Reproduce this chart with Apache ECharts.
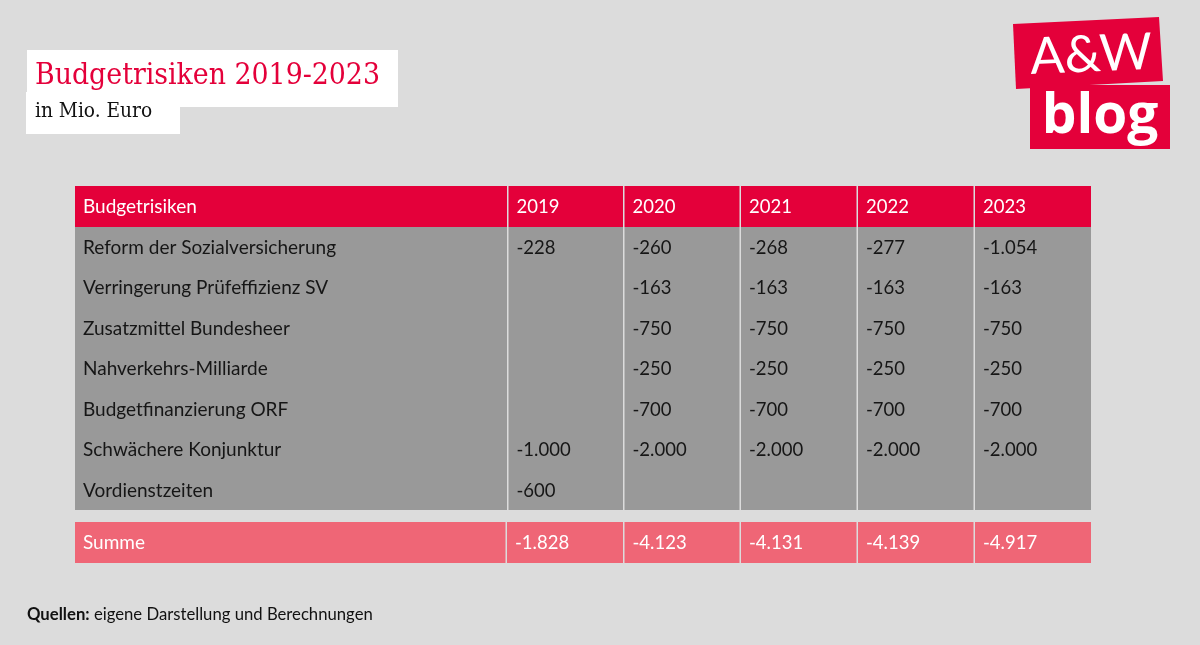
<!DOCTYPE html>
<html>
<head>
<meta charset="utf-8">
<style>
  html, body { margin: 0; padding: 0; background: #dcdcdc; }
  #chart { width: 1200px; height: 645px; }
</style>
<script src="https://cdn.jsdelivr.net/npm/echarts@6/dist/echarts.min.js"></script>
</head>
<body>
<div id="chart"></div>
<script>
const years = [2019, 2020, 2021, 2022, 2023];
const rowLabels = [
  "Reform der Sozialversicherung",
  "Verringerung Prüfeffizienz SV",
  "Zusatzmittel Bundesheer",
  "Nahverkehrs-Milliarde",
  "Budgetfinanzierung ORF",
  "Schwächere Konjunktur",
  "Vordienstzeiten",
];
const reformSv = [-228, -260, -268, -277, -1054];
const pruefeffizienz = [null, -163, -163, -163, -163];
const bundesheer = [null, -750, -750, -750, -750];
const nahverkehr = [null, -250, -250, -250, -250];
const orf = [null, -700, -700, -700, -700];
const konjunktur = [-1000, -2000, -2000, -2000, -2000];
const vordienstzeiten = [-600, null, null, null, null];
const summe = [-1828, -4123, -4131, -4139, -4917];

const RED = "#e4003a";
const GREY = "#999999";
const ROSE = "#ef6676";
const BG = "#dcdcdc";
const FONT = "Lato";
const SLAB = "DejaVu Serif Condensed";

const TABLE_WIDTH = 1016;
const columnStarts = [0, 433.5, 549.5, 666, 783, 900, TABLE_WIDTH + 1.5];
const sumColumnStarts = [0, 432, 549.5, 666, 783, 900, TABLE_WIDTH + 1.5];

function formatValue(value) {
  if (value === null) return "";
  return "-" + String(Math.abs(value)).replace(/\B(?=(\d{3})+$)/g, ".");
}

function cellRenderer(starts, items) {
  return function (params, api) {
    const col = api.value(0);
    const row = api.value(1);
    const left = api.coord([starts[col], row])[0];
    const right = api.coord([starts[col + 1] - 1.5, row])[0];
    const band = api.size([0, 1])[1];
    const center = api.coord([0, row])[1];
    // whole pixels, otherwise hairlines show between the grey rows
    const top = Math.round(center - band / 2);
    const bottom = Math.round(center + band / 2);
    const item = items[params.dataIndex];
    return {
      type: "group",
      children: [
        { type: "rect", shape: { x: left, y: top, width: right - left, height: bottom - top }, style: { fill: item.fill } },
        {
          type: "text",
          x: left + 8,
          y: center + 1,
          style: {
            text: item.text,
            fill: item.color,
            font: (col === 0 ? 19 : 18.5) + "px " + FONT,
            textAlign: "left",
            textVerticalAlign: "middle",
          },
        },
      ],
    };
  };
}

function cellSeries(rows, gridIndex, starts) {
  const items = [];
  rows.forEach((row, r) => {
    row.cells.forEach((text, c) => {
      items.push({ value: [c, r], text, fill: row.fill, color: row.color });
    });
  });
  return {
    type: "custom",
    xAxisIndex: gridIndex,
    yAxisIndex: gridIndex,
    silent: true,
    data: items.map((i) => i.value),
    renderItem: cellRenderer(starts, items),
  };
}

const bodyValues = [reformSv, pruefeffizienz, bundesheer, nahverkehr, orf, konjunktur, vordienstzeiten];
const bodyRows = [
  { cells: ["Budgetrisiken", ...years.map(String)], fill: RED, color: "#ffffff" },
  ...rowLabels.map((label, i) => ({
    cells: [label, ...bodyValues[i].map(formatValue)],
    fill: GREY,
    color: "#161616",
  })),
];
const sumRows = [{ cells: ["Summe", ...summe.map(formatValue)], fill: ROSE, color: "#ffffff" }];

const hiddenX = (gridIndex) => ({ type: "value", gridIndex, min: 0, max: TABLE_WIDTH, show: false });
const hiddenY = (gridIndex, data) => ({ type: "category", gridIndex, data, inverse: true, show: false });

const chart = echarts.init(document.getElementById("chart"));
chart.setOption({
  animation: false,
  backgroundColor: BG,
  title: [
    { text: "Budgetrisiken 2019-2023", left: 35, top: 61, padding: 0, textStyle: { fontFamily: SLAB, fontWeight: "normal", fontSize: 29.8, color: RED } },
    { text: "in Mio. Euro", left: 35, top: 101, padding: 0, textStyle: { fontFamily: SLAB, fontWeight: "normal", fontSize: 20.7, color: "#111111" } },
    {
      text: "{b|Quellen:} eigene Darstellung und Berechnungen",
      left: 27,
      top: 606,
      padding: 0,
      textStyle: {
        fontFamily: FONT,
        fontWeight: "normal",
        fontSize: 16.7,
        color: "#111111",
        rich: {
          b: { fontFamily: FONT, fontWeight: "bold", fontSize: 16.7, color: "#111111" },
        },
      },
    },
  ],
  grid: [
    { left: 75, top: 186, width: TABLE_WIDTH, height: 324 },
    { left: 75, top: 522, width: TABLE_WIDTH, height: 40.5 },
  ],
  xAxis: [hiddenX(0), hiddenX(1)],
  yAxis: [hiddenY(0, ["Budgetrisiken", ...rowLabels]), hiddenY(1, ["Summe"])],
  series: [cellSeries(bodyRows, 0, columnStarts), cellSeries(sumRows, 1, sumColumnStarts)],
  graphic: [
    { type: "rect", z: -1, shape: { x: 27, y: 50, width: 371, height: 57 }, style: { fill: "#ffffff" } },
    { type: "rect", z: -1, shape: { x: 26, y: 92, width: 154, height: 42 }, style: { fill: "#ffffff" } },
    { type: "polygon", shape: { points: [[1013, 24], [1159, 17], [1163, 81], [1016, 89]] }, style: { fill: RED } },
    { type: "rect", shape: { x: 1030, y: 85, width: 140, height: 64 }, style: { fill: RED } },
    {
      type: "text",
      x: 1091,
      y: 55,
      rotation: 0.04,
      style: { text: "A&W", fill: "#ffffff", font: "400 51px Lato", textAlign: "center", textVerticalAlign: "middle" },
    },
    {
      type: "text",
      x: 1100,
      y: 117,
      style: { text: "blog", fill: "#ffffff", font: "700 55px 'Open Sans'", textAlign: "center", textVerticalAlign: "middle" },
    },
  ],
});
</script>
</body>
</html>
